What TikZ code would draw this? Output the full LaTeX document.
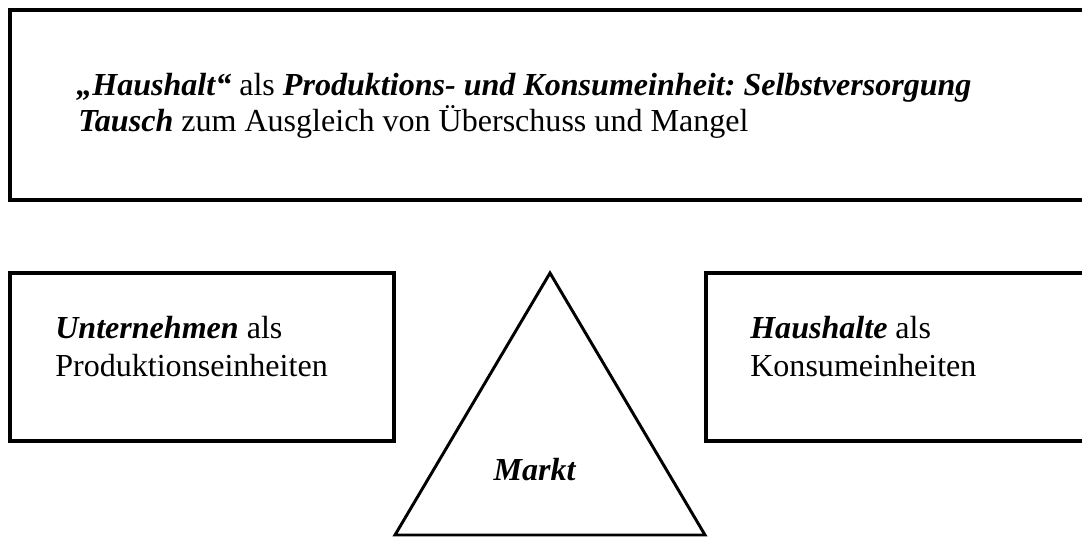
\documentclass[tikz,border=0pt]{standalone}
\usepackage{fontspec}
\setmainfont{Liberation Serif}
\usepackage{tikz}
\frenchspacing

\tikzset{
  box/.style={line width=2.7pt},
  label/.style={anchor=base west, inner sep=0pt, font=\fontsize{22.8}{27}\selectfont},
}

\begin{document}
\begin{tikzpicture}[x=0.025cm, y=-0.025cm]

  % Fix the page to the size of the picture
  \useasboundingbox (0,0) rectangle (1082,538);
  \clip (0,0) rectangle (1082,538);

  % Top box: household as production and consumption unit
  \draw[box] (10,10) rectangle (1100,200);
  \node[label] (haushalt) at (76,96) {\textbf{\textit{„Haushalt“}} als \textbf{\textit{Produktions- und Konsumeinheit: Selbstversorgung}}};
  \node[label] (tausch) at (78,132) {\textbf{\textit{Tausch}} zum Ausgleich von Überschuss und Mangel};

  % Left box: firms
  \draw[box] (10,273) rectangle (394,441);
  \node[label] (unternehmen) at (55,338) {\textbf{\textit{Unternehmen}} als};
  \node[label] (produktion) at (55,376) {Produktionseinheiten};

  % Right box: households
  \draw[box] (706,273) rectangle (1100,441);
  \node[label] (haushalte) at (750,338) {\textbf{\textit{Haushalte}} als};
  \node[label] (konsum) at (750,376) {Konsumeinheiten};

  % Triangle for the market
  \draw[line width=2.1pt, line join=miter] (550,273) -- (705,535) -- (395,535) -- cycle;
  \node[label, anchor=base] (markt) at (535,480) {\textbf{\textit{Markt}}};

\end{tikzpicture}
\end{document}
